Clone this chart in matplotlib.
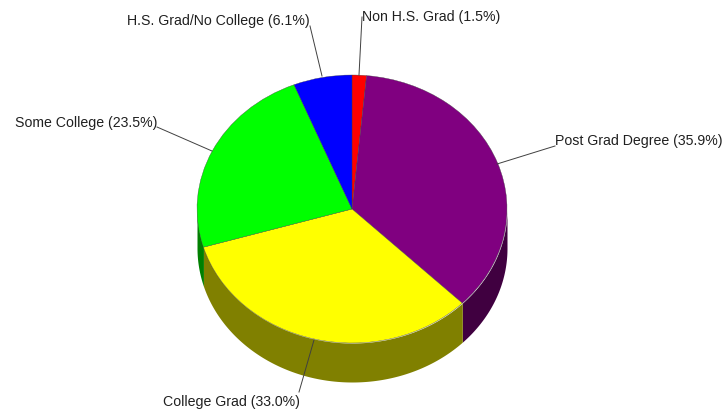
import numpy as np
from matplotlib import pyplot as plt

# slice values, clockwise from 12 o'clock
labels = ['Non H.S. Grad', 'Post Grad Degree', 'College Grad', 'Some College', 'H.S. Grad/No College']
values = [1.5, 35.9, 33.0, 23.5, 6.1]
top_colors = ['#ff0000', '#800080', '#ffff00', '#00ff00', '#0000ff']
side_colors = ['#800000', '#400040', '#808000', '#008000', '#000080']

W, H = 722, 411
CX, CY = 352, 209  # centre of top ellipse, pixels
RX, RY = 155, 134
DEPTH = 39 / RY

plt.rcParams['font.family'] = ['Liberation Sans', 'DejaVu Sans']


def px(x, y):
    # picture pixels -> pie units
    return (x - CX) / RX, (CY - y) / RY


fig = plt.figure(figsize=(W / 100, H / 100), dpi=100)
ax = fig.add_axes([0, 0, 1, 1])

wedges, _ = ax.pie(values, colors=top_colors, startangle=90, counterclock=False,
                   wedgeprops={'linewidth': 0.25, 'edgecolor': '#404040', 'zorder': 3})

# side wall, only the front half of the rim shows
for w, c in zip(wedges, side_colors):
    t = np.radians(np.linspace(w.theta1, w.theta2, 200))
    t = t[np.sin(t) <= 0]
    if len(t) < 2:
        continue
    xs, ys = np.cos(t), np.sin(t)
    ax.fill_between(xs, ys - DEPTH, ys, color=c, linewidth=0, zorder=2)

ax.set_aspect('auto')
ax.set_xlim(px(0, 0)[0], px(W, 0)[0])
ax.set_ylim(px(0, H)[1], px(0, 0)[1])
ax.axis('off')

# label: text anchor x, y, ha, then leader start and end in pixels
spots = [
    (362, 17, 'left', (362, 17), (359, 75)),
    (555, 141, 'left', (555, 146), (497, 164)),
    (300, 402, 'right', (299, 392), (314, 340)),
    (157, 123, 'right', (157, 127), (212, 151)),
    (310, 21, 'right', (310, 26), (322, 76)),
]
for name, v, (tx, ty, ha, a, b) in zip(labels, values, spots):
    x, y = px(tx, ty)
    ax.text(x, y, '%s (%.1f%%)' % (name, v), ha=ha, va='center', fontsize=10.15, color='#202020')
    ax.plot(*zip(px(*a), px(*b)), color='#404040', lw=0.7, zorder=4)

fig.savefig('out.png', dpi=100)
